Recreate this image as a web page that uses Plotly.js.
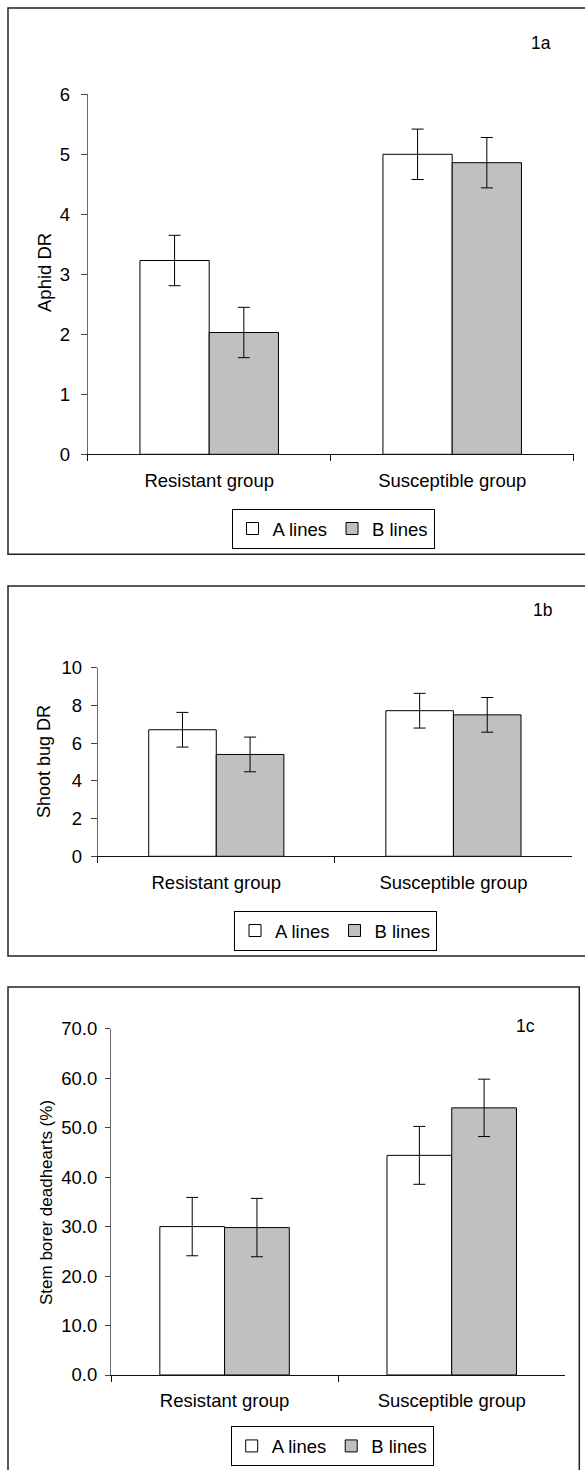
<!DOCTYPE html>
<html>
<head>
<meta charset="utf-8">
<script src="https://cdn.plot.ly/plotly-3.0.1.min.js"></script>
<style>
html, body { margin: 0; padding: 0; background: #fff; }
#chart { width: 585px; height: 1470px; }
</style>
</head>
<body>
<div id="chart"></div>
<script>
// ---- data ----
const categories = ['Resistant group', 'Susceptible group'];
const seriesNames = ['A lines', 'B lines'];

const aphidA = [3.23, 5.00];
const aphidAErr = [0.42, 0.42];
const aphidB = [2.03, 4.86];
const aphidBErr = [0.42, 0.42];

const shootA = [6.71, 7.72];
const shootAErr = [0.92, 0.92];
const shootB = [5.40, 7.50];
const shootBErr = [0.92, 0.92];

const stemA = [30.0, 44.4];
const stemAErr = [5.9, 5.85];
const stemB = [29.8, 54.0];
const stemBErr = [5.9, 5.8];

const yTitles = ['Aphid DR', 'Shoot bug DR', 'Stem borer deadhearts (%)'];
const panelLabels = ['1a', '1b', '1c'];

// ---- layout helpers ----
const W = 585, H = 1470;
const px = v => v / W;
const py = v => 1 - v / H;
const FONT = 'Liberation Sans, Arial, Helvetica, sans-serif';
const FS = 18.5;
const fillA = '#ffffff', fillB = '#c0c0c0';

function barPair(valsA, errA, valsB, errB, xa, ya, legendId) {
  const mk = (name, vals, err, fill) => ({
    type: 'bar', name: name, x: categories, y: vals,
    xaxis: xa, yaxis: ya, legend: legendId,
    marker: { color: fill, line: { color: '#000', width: 1 } },
    error_y: { type: 'data', array: err, visible: true, color: '#000', thickness: 1, width: 6 },
    hoverinfo: 'skip'
  });
  return [mk(seriesNames[0], valsA, errA, fillA), mk(seriesNames[1], valsB, errB, fillB)];
}

const data = [].concat(
  barPair(aphidA, aphidAErr, aphidB, aphidBErr, 'x', 'y', 'legend'),
  barPair(shootA, shootAErr, shootB, shootBErr, 'x2', 'y2', 'legend2'),
  barPair(stemA, stemAErr, stemB, stemBErr, 'x3', 'y3', 'legend3')
);

function xAxis(d0, d1, anchor) {
  return {
    domain: [px(d0), px(d1)], anchor: anchor, type: 'category',
    showline: true, linecolor: '#111', linewidth: 1,
    ticks: 'outside', tickson: 'boundaries', ticklen: 6, tickcolor: '#111',
    ticklabelstandoff: 9,
    showgrid: false, zeroline: false, fixedrange: true,
    tickfont: { family: FONT, size: FS, color: '#000' }
  };
}
function yAxis(top, bottom, anchor, range, dtick, fmt, tlen, stand) {
  return {
    domain: [py(bottom), py(top)], anchor: anchor,
    range: range, dtick: dtick, tick0: 0, tickformat: fmt,
    showline: true, linecolor: '#666', linewidth: 1,
    ticks: 'outside', ticklen: tlen, tickcolor: '#444',
    ticklabelstandoff: stand,
    showgrid: false, zeroline: false, fixedrange: true,
    tickfont: { family: FONT, size: FS, color: '#000' }
  };
}
function legendAt(cx, cy) {
  return {
    orientation: 'h', x: px(cx), xanchor: 'center', y: py(cy), yanchor: 'middle',
    bgcolor: '#fff', bordercolor: '#000', borderwidth: 1,
    font: { family: FONT, size: FS, color: '#000' },
    itemwidth: 30, traceorder: 'normal'
  };
}
function ann(text, x, y, angle, size) {
  return {
    text: text, xref: 'paper', yref: 'paper', x: px(x), y: py(y),
    xanchor: 'center', yanchor: 'middle', showarrow: false, textangle: angle || 0,
    font: { family: FONT, size: size || FS, color: '#000' }
  };
}
function box(x0, y0, x1, y1) {
  return {
    type: 'rect', xref: 'paper', yref: 'paper', layer: 'below',
    x0: px(x0), x1: px(x1), y0: py(y0), y1: py(y1),
    line: { color: '#222', width: 1.5 }, fillcolor: 'rgba(0,0,0,0)'
  };
}

const layout = {
  width: W, height: H,
  margin: { l: 0, r: 0, t: 0, b: 0 },
  paper_bgcolor: '#fff', plot_bgcolor: 'rgba(0,0,0,0)',
  font: { family: FONT, size: FS, color: '#000' },
  barmode: 'group', bargap: 0.43, bargroupgap: 0,
  showlegend: true,
  xaxis: xAxis(87.7, 573.7, 'y'),
  yaxis: yAxis(94.3, 454.3, 'x', [0, 6], 1, 'd', 6, 7),
  xaxis2: xAxis(97.7, 572, 'y2'),
  yaxis2: yAxis(667.7, 856.3, 'x2', [0, 10], 2, 'd', 6, 5),
  xaxis3: xAxis(111, 565.3, 'y3'),
  yaxis3: yAxis(1028.7, 1375, 'x3', [0, 70], 10, '.1f', 5, 4),
  legend: legendAt(333, 529),
  legend2: legendAt(335.5, 931),
  legend3: legendAt(332.2, 1446.4),
  annotations: [
    ann(yTitles[0], 44, 273, -90, 18.5),
    ann(yTitles[1], 44, 762, -90, 18),
    ann(yTitles[2], 46, 1203, -90, 17),
    ann(panelLabels[0], 541, 43, 0, 17.5),
    ann(panelLabels[1], 542, 610, 0, 17.5),
    ann(panelLabels[2], 525, 1026, 0, 17.5)
  ],
  shapes: [
    box(8, 8, 600, 554.3),
    box(8, 586, 600, 956),
    box(8, 987, 579.3, 1500)
  ]
};

Plotly.newPlot('chart', data, layout, { displayModeBar: false, staticPlot: true });
</script>
</body>
</html>
